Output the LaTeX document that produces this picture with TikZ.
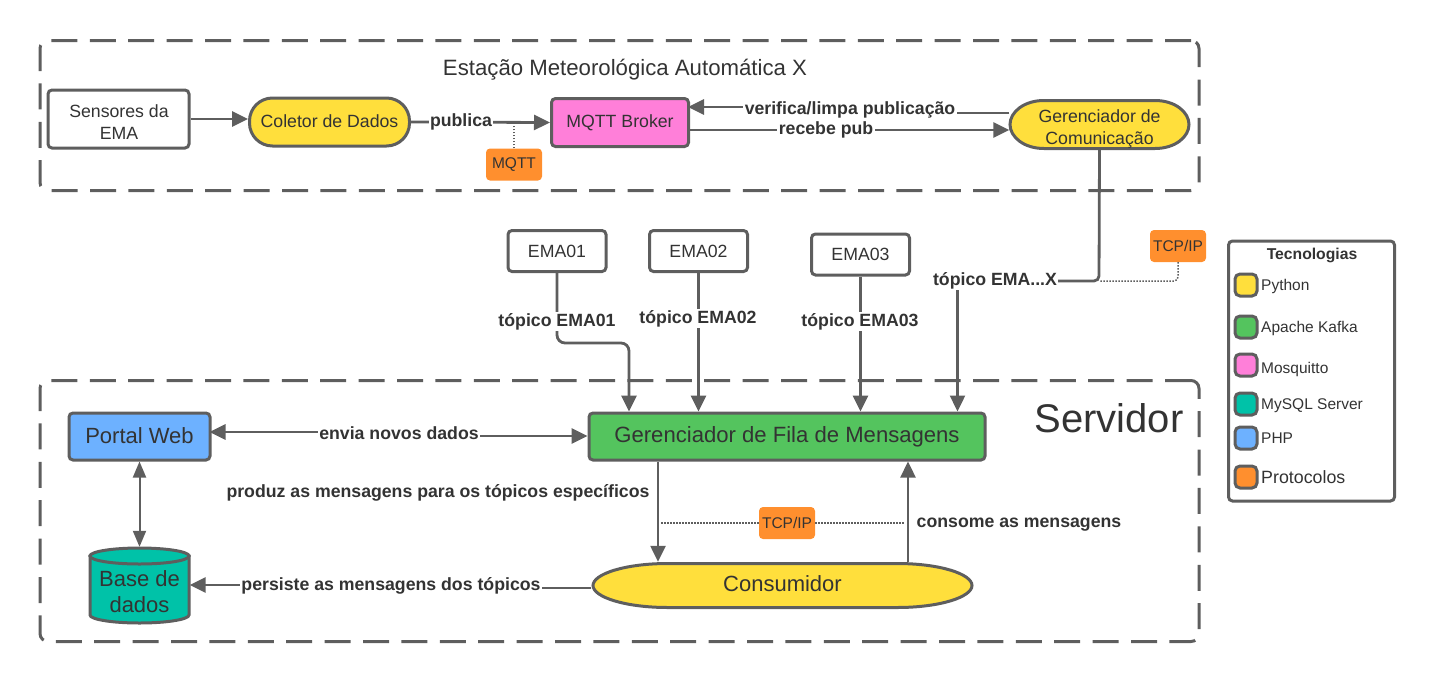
\documentclass[tikz,border=0pt]{standalone}
\usepackage{fontspec}
\setmainfont{Liberation Sans}
\usetikzlibrary{arrows.meta,calc}
\definecolor{ln}{HTML}{5E5E5E}
\definecolor{tx}{HTML}{333333}
\definecolor{cy}{HTML}{FFDF3C}
\definecolor{cg}{HTML}{54C45E}
\definecolor{cp}{HTML}{FF7FD9}
\definecolor{ct}{HTML}{00C2A8}
\definecolor{cb}{HTML}{6DB1FF}
\definecolor{co}{HTML}{FF8F2E}
\tikzset{
  box/.style={draw=ln,line width=3pt,rounded corners=4pt,text=tx,align=center,inner sep=0pt,font=\fontsize{17.7}{22}\selectfont},
  frameline/.style={draw=ln,line width=3pt,rounded corners=8pt,dash pattern=on 26pt off 12.4pt},
  tag/.style={fill=co,rounded corners=4pt,text=tx,inner sep=0pt,minimum width=56pt,minimum height=32pt,font=\fontsize{15.5}{18}\selectfont},
  lbl/.style={fill=white,text=tx,inner sep=1.5pt,font=\bfseries\fontsize{17.7}{20}\selectfont},
  flow/.style={draw=ln,line width=2.8pt,-{Triangle[length=16pt,width=15pt]}},
  both/.style={draw=ln,line width=2pt,{Triangle[length=16pt,width=13pt]}-{Triangle[length=16pt,width=13pt]}},
  plain/.style={draw=ln,line width=2.8pt},
  dots/.style={draw=ln,line width=1.5pt,dash pattern=on 1.5pt off 1.5pt},
  swatch/.style={draw=ln,line width=3pt,rounded corners=5pt,minimum width=22pt,minimum height=22pt,inner sep=0pt},
  legtxt/.style={anchor=west,text=tx,inner sep=0pt,font=\fontsize{15.5}{18}\selectfont},
  shapeline/.style={draw=ln,line width=3pt},
  bodytxt/.style={text=tx,align=center,inner sep=0pt,font=\fontsize{17.7}{22}\selectfont},
}
\begin{document}
\begin{tikzpicture}[x=1pt,y=-1pt]
\useasboundingbox (0,0) rectangle (1435,681);
% frames
\node[frameline,minimum width=1159pt,minimum height=150pt] (estacao) at (619.5,115.5) {};
\node[frameline,minimum width=1159pt,minimum height=261pt] (servidor) at (619.5,511) {};
\node[text=tx,inner sep=0pt,font=\fontsize{22.2}{26}\selectfont] (t1) at (625,69.5) {Estação Meteorológica Automática X};
\node[text=tx,inner sep=0pt,font=\fontsize{40}{46}\selectfont] (t2) at (1109,418) {Servidor};
% station nodes
\node[box,minimum width=141pt,minimum height=58pt] (sens) at (118.5,119) {};
\node[bodytxt] (senstxt) at (119,122) {Sensores da\\EMA};
\node[box,fill=cy,rounded corners=23pt,minimum width=160pt,minimum height=48pt] (col) at (329.5,122) {\raisebox{1pt}{Coletor de Dados}};
\node[box,fill=cp,minimum width=137pt,minimum height=48pt] (mqtt) at (620,122.5) {\raisebox{1.5pt}{MQTT Broker}};
\path[shapeline,fill=cy] (1044,100.5) -- (1155,100.5) .. controls (1175,100.5) and (1189,112) .. (1189,124.5) .. controls (1189,137) and (1175,148.5) .. (1155,148.5) -- (1044,148.5) .. controls (1024,148.5) and (1010,137) .. (1010,124.5) .. controls (1010,112) and (1024,100.5) .. (1044,100.5) -- cycle;
\node[inner sep=0pt,minimum width=180pt,minimum height=49pt] (gc) at (1099.5,124.5) {};
\node[bodytxt] (gctxt) at (1099.5,128.5) {Gerenciador de\\Comunicação};
\node[tag] (tmqtt) at (514,164.5) {MQTT};
% EMA nodes
\node[box,minimum width=98pt,minimum height=41pt] (e1) at (557,251) {EMA01};
\node[box,minimum width=98pt,minimum height=41pt] (e2) at (698.5,251) {EMA02};
\node[box,minimum width=98pt,minimum height=41pt] (e3) at (860.5,254.5) {EMA03};
\node[tag] (ttcp) at (1178,246) {TCP/IP};
% server nodes
\node[box,fill=cb,font=\fontsize{22}{26}\selectfont,minimum width=141pt,minimum height=47pt] (web) at (139.5,436.5) {\raisebox{2pt}{Portal Web}};
\node[box,fill=cg,font=\fontsize{22.1}{26}\selectfont,minimum width=396pt,minimum height=47pt] (fila) at (787,436.5) {Gerenciador de Fila de Mensagens};
\path[shapeline,fill=ct] (90,556) -- (90,615) .. controls (90,619.4) and (112.3,623) .. (139.5,623) .. controls (166.7,623) and (189,619.4) .. (189,615) -- (189,556) -- cycle;
\path[shapeline,fill=ct] (139.5,556) ellipse [x radius=49.5pt,y radius=8pt];
\node[inner sep=0pt,minimum width=102pt,minimum height=77pt] (base) at (139.5,585.5) {};
\node[bodytxt,font=\fontsize{22}{26}\selectfont] (basetxt) at (139.5,592) {Base de\\dados};
\path[shapeline,fill=cy] (668,563.5) -- (897,563.5) .. controls (940,563.5) and (972,574) .. (972,585.5) .. controls (972,597) and (940,607.5) .. (897,607.5) -- (668,607.5) .. controls (625,607.5) and (593,597) .. (593,585.5) .. controls (593,574) and (625,563.5) .. (668,563.5) -- cycle;
\node[text=tx,inner sep=0pt,minimum width=382pt,minimum height=47pt,font=\fontsize{22}{26}\selectfont] (cons) at (782.5,585.5) {\raisebox{3.5pt}{Consumidor}};
\node[tag] (tcons) at (787,523) {TCP/IP};
% helper levels
\coordinate (yver) at (0,113);
\coordinate (yverb) at (850,107);
\coordinate (yrec) at (0,130);
\coordinate (jx) at (1099,281);
\coordinate (cx) at (957.5,281);
\coordinate (tt1) at (514,125);
\coordinate (j1) at (557,343);
\coordinate (a1) at (629,343);
% connectors
\draw[flow] (sens.east) -- (col.west |- sens.east);
\draw[flow] (col.east) -- (mqtt.west);
\draw[dots] (tmqtt.north) -- (tt1);
\draw[flow,shorten >=-2pt] (gc.west |- yver) -- (yverb |- yver) -- (yverb) -- (mqtt.east |- yverb);
\draw[flow] (mqtt.east |- yrec) -- (gc.west |- yrec);
\draw[plain,rounded corners=5pt] (gc.south) -- (jx) -- (cx);
\draw[flow,line width=2.4pt] (cx) -- (cx |- fila.north);
\draw[dots,rounded corners=4pt] (ttcp.south) |- (jx);
\draw[flow,rounded corners=8pt] (e1.south) -- (j1) -- (a1) -- (a1 |- fila.north);
\draw[flow] (e2.south) -- (e2.south |- fila.north);
\draw[flow] (e3.south) -- (e3.south |- fila.north);
\coordinate (wy) at (0,432);
\coordinate (wf) at (400,436);
\draw[plain,{Triangle[length=16pt,width=15pt]}-,shorten <=-2pt] (web.east |- wy) -- (wf |- wy) -- (wf);
\draw[flow] (wf) -- (fila.west |- wf);
\draw[both] (web.south) -- (base.north);
\coordinate (pf) at (658,0);
\coordinate (pc) at (908,0);
\draw[flow,line width=2.4pt] (pf |- fila.south) -- (pf |- cons.north);
\draw[flow,line width=2.4pt] (pc |- cons.north) -- (pc |- fila.south);
\draw[dots,line width=1.3pt] (661,523) -- (tcons.west);
\draw[dots,line width=1.3pt] (tcons.east) -- (905,523);
\coordinate (py) at (390,585);
\coordinate (pyr) at (390,588);
\draw[plain] (cons.west |- pyr) -- (pyr) -- (py);
\draw[flow,shorten >=-1pt] (py) -- (base.east |- py);
% labels
\node[lbl] (lpub) at (461,121.5) {publica};
\node[lbl] (lver) at (850,109.5) {verifica/limpa publicação};
\node[lbl] (lrec) at (826,129.5) {recebe pub};
\node[lbl] (lx) at (995,280.5) {tópico EMA...X};
\node[lbl] (l1) at (557,321.5) {tópico EMA01};
\node[lbl] (l2) at (698,318.5) {tópico EMA02};
\node[lbl] (l3) at (860,321.5) {tópico EMA03};
\node[lbl] (lenv) at (399,433.5) {envia novos dados};
\node[lbl] (lprod) at (438,492.5) {produz as mensagens para os tópicos específicos};
\node[lbl] (lcon) at (1019,524.5) {consome as mensagens};
\node[lbl] (lper) at (391,585.5) {persiste as mensagens dos tópicos};
% legend
\node[box,minimum width=166pt,minimum height=260pt] (leg) at (1311.5,371) {};
\node[text=tx,inner sep=0pt,font=\bfseries\fontsize{15.7}{18}\selectfont] (legt) at (1312,255.5) {Tecnologias};
\node[swatch,fill=cy] (s1) at (1246,285) {};
\node[swatch,fill=cg] (s2) at (1246,327) {};
\node[swatch,fill=cp] (s3) at (1246,365) {};
\node[swatch,fill=ct] (s4) at (1246,404) {};
\node[swatch,fill=cb] (s5) at (1246,438) {};
\node[swatch,fill=co] (s6) at (1246,477) {};
\node[legtxt] (n1) at (1261,286.5) {Python};
\node[legtxt] (n2) at (1261,328.5) {Apache Kafka};
\node[legtxt] (n3) at (1261,369.5) {Mosquitto};
\node[legtxt] (n4) at (1261,405.5) {MySQL Server};
\node[legtxt] (n5) at (1261,438.5) {PHP};
\node[legtxt,font=\fontsize{17.8}{20}\selectfont] (n6) at (1261,477.5) {Protocolos};
\end{tikzpicture}
\end{document}
